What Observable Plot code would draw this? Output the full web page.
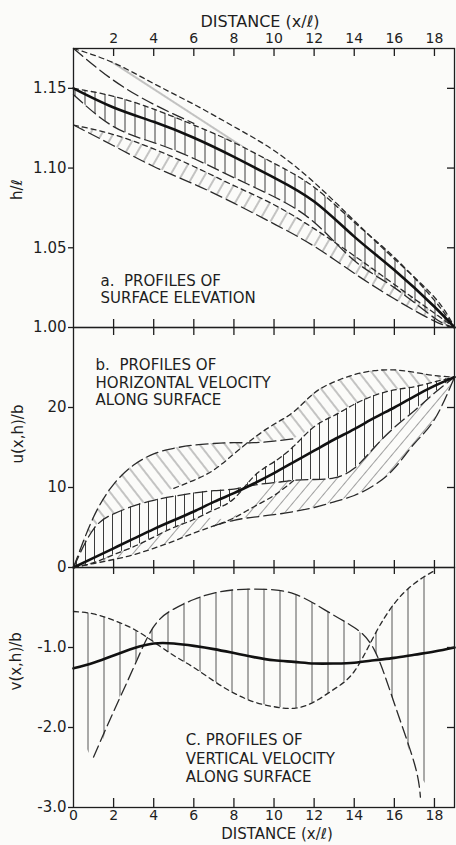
<!DOCTYPE html>
<html><head><meta charset="utf-8">
<script src="https://cdn.jsdelivr.net/npm/d3@7"></script>
<script src="https://cdn.jsdelivr.net/npm/@observablehq/plot@0.6"></script>
<style>
html,body{margin:0;padding:0;background:#fbfbf9;}
#chart{width:456px;height:845px;overflow:hidden;}
#chart svg{display:block;overflow:visible;background:transparent;}
</style></head>
<body><div id="chart"></div>
<script>
// ---------- tick labels ----------
const xTicksTop = [2,4,6,8,10,12,14,16,18];
const xTicksBottom = [0,2,4,6,8,10,12,14,16,18];
const hTicks = [1.00,1.05,1.10,1.15];
const uTicks = [10,20];
const vTicks = [0,-1,-2,-3];

// ---------- panel a : surface elevation h/l ----------
const aX      = [0,2,4,6,8,10,12,14,16,18,19];
const aMean   = [1.150,1.138,1.129,1.119,1.107,1.094,1.079,1.057,1.036,1.013,1.000];
const aUpper  = [1.175,1.166,1.153,1.140,1.126,1.111,1.091,1.067,1.043,1.019,1.000];
const aSteep  = [1.175,1.155,1.140,1.128];            // x = 0,2,4,6
const aCap    = [1.150,1.145,1.137,1.127,1.116,1.103,1.088,1.066,1.044,1.017,1.000];
const aBelow  = [1.146,1.126,1.116,1.106,1.094,1.082,1.066,1.042,1.025,1.006,1.000];
const aLowTop = [1.127,1.121,1.112,1.101,1.089,1.077,1.062,1.045,1.027,1.009,1.000];
const aLowBot = [1.127,1.114,1.101,1.090,1.078,1.065,1.051,1.034,1.018,1.004,1.000];

// ---------- panel b : horizontal velocity u(x,h)/b ----------
const bX    = [0,1,2,3,4,5,6,7,8,9,10,11,12,13,14,15,16,17,18,19];
const bMean = [0,1.2,2.4,3.6,4.8,5.9,7.0,8.2,9.3,10.5,11.8,13.2,14.6,16.0,17.3,18.7,20.0,21.4,22.7,23.8];
const bAX   = [0,1,2,3,4,5,6,7,8,9,10,11];
const bA    = [0,6.3,10.4,12.8,14.2,14.9,15.3,15.5,15.6,15.6,15.8,16.1];
const bBX   = [5,6,7,8,9,10,11,12,13,14,15,16,17,18,19];
const bB    = [9.9,10.9,12.2,14.2,16.2,17.9,19.5,21.8,23.2,24.1,24.6,24.7,24.4,24.0,23.8];
const bC    = [0,4.8,6.7,7.7,8.4,8.9,9.3,9.6,9.8,10.3,10.6,10.9,11.0,11.2,12.4,15.0,17.5,19.6,21.8,23.8];
const bD    = [0,0.6,1.6,2.6,3.8,5.0,6.0,7.2,8.6,11.4,13.2,15.2,17.6,19.0,20.4,21.5,22.2,22.6,23.2,23.8];
const bEX   = [0,1,2,3,4,5,6,7,8,9,10,11];
const bE    = [0,0.5,1.0,1.6,2.4,3.3,4.3,5.2,6.2,7.6,9.0,10.9];
const bFX   = [7,8,9,10,11,12,13,14,15,16,17,18,19];
const bF    = [5.2,5.9,6.3,6.6,7.0,7.5,8.2,9.0,10.3,12.4,15.5,18.5,23.8];
const bULX   = [0,1,2,3,4,5,6,7,8,9];
const bULTop = [0,6.3,10.4,12.8,14.2,14.9,15.3,15.5,15.6,15.6];
const bULBot = [0,4.8,6.7,7.7,8.4,9.9,10.9,12.2,14.2,15.6];
const bURX   = [9,10,11,12,13,14,15,16,17,18,19];
const bURTop = [16.2,17.9,19.5,21.8,23.2,24.1,24.6,24.7,24.4,24.0,23.8];
const bURBot = [15.6,15.8,16.1,17.6,19.0,20.4,21.5,22.2,22.6,23.2,23.8];
const bLowTop = [0,0.6,1.6,2.6,3.8,5.0,6.0,6.1,6.3,8.6,10.6,10.9,11.0,11.2,12.4,15.0,17.5,19.6,21.8,23.8];
const bLowBot = [0,0.5,1.0,1.6,2.4,3.3,4.3,5.2,5.9,6.3,6.6,7.0,7.5,8.2,9.0,10.3,12.4,15.5,18.5,23.8];

// ---------- panel c : vertical velocity v(x,h)/b ----------
const cX      = [0,1,2,3,4,5,6,7,8,9,10,11,12,13,14,15,16,17,18,19];
const cMean   = [-1.26,-1.19,-1.10,-1.01,-0.95,-0.95,-0.98,-1.02,-1.07,-1.12,-1.16,-1.18,-1.20,-1.20,-1.19,-1.16,-1.13,-1.09,-1.05,-1.00];
const cShortX = [0,1,2,3,4,5,6,7,8,9,10,11,12,13,14,15,16,17,18];
const cShort  = [-0.55,-0.58,-0.66,-0.77,-0.93,-1.10,-1.25,-1.42,-1.57,-1.68,-1.74,-1.76,-1.68,-1.52,-1.30,-0.85,-0.45,-0.20,-0.04];
const cLongX  = [1,2,3,4,5,6,7,8,9,10,11,12,13,14,15,16,17,17.3];
const cLong   = [-2.37,-1.80,-1.25,-0.74,-0.52,-0.40,-0.32,-0.28,-0.27,-0.28,-0.33,-0.45,-0.60,-0.75,-1.03,-1.70,-2.45,-2.87];
const cBandX  = [0,1,2,3,4,5,6,7,8,9,10,11,12,13,14,15,16,17,18];
const cBandLo = [-1.60,-2.37,-1.80,-1.25,-0.74,-0.52,-0.40,-0.32,-0.28,-0.27,-0.28,-0.33,-0.45,-0.60,-0.75,-1.03,-1.70,-2.45,-2.85];

// ---------- helpers ----------
const pts  = (xs, ys) => xs.map((x, i) => ({x, y: ys[i]}));
const band = (xs, lo, hi) => xs.map((x, i) => ({x, y1: lo[i], y2: hi[i]}));

const W = 456, ML = 73, MR = 2, FW = W - ML - MR;
const INK = "#1e1e1e";
const FONT = "DejaVu Sans";
const solid  = {stroke: "#111", strokeWidth: 2.6};
const shortD = {stroke: "#2a2a2a", strokeWidth: 1.3, strokeDasharray: "5,4"};
const longD  = {stroke: "#2a2a2a", strokeWidth: 1.3, strokeDasharray: "12,5"};
const frameS = {stroke: INK, strokeWidth: 1.3};
const baseStyle = {fontFamily: FONT, fontSize: "15px", color: INK, background: "transparent", overflow: "visible"};

const ln = (xs, ys, st, curve = "natural") => Plot.line(pts(xs, ys), {x: "x", y: "y", curve, ...st});
const hatchArea = (xs, lo, hi, id, curve = "natural") =>
  Plot.areaY(band(xs, lo, hi), {x: "x", y1: "y1", y2: "y2", curve, fill: `url(#${id})`});

function addHatch(svg, id, spacing, angle, color, sw) {
  const ns = "http://www.w3.org/2000/svg";
  let defs = svg.querySelector("defs");
  if (!defs) { defs = document.createElementNS(ns, "defs"); svg.insertBefore(defs, svg.firstChild); }
  const p = document.createElementNS(ns, "pattern");
  p.setAttribute("id", id);
  p.setAttribute("patternUnits", "userSpaceOnUse");
  p.setAttribute("width", spacing);
  p.setAttribute("height", spacing);
  p.setAttribute("patternTransform", `rotate(${angle})`);
  const l = document.createElementNS(ns, "line");
  l.setAttribute("x1", spacing / 2); l.setAttribute("x2", spacing / 2);
  l.setAttribute("y1", -1); l.setAttribute("y2", spacing + 1);
  l.setAttribute("stroke", color); l.setAttribute("stroke-width", sw);
  p.appendChild(l); defs.appendChild(p);
}

const txt = (s, o) => Plot.text([s], {text: d => d, fontFamily: FONT, fill: INK, ...o});
const panelLabel = {textAnchor: "start", lineAnchor: "top", fontSize: 15, letterSpacing: 1};

// ---------- panel a ----------
const FHa = 279;
const aUpperLo = aX.map((x, i) => x <= 6 ? aSteep[i] : aCap[i]);
const pa = Plot.plot({
  width: W, height: 48 + FHa, marginTop: 48, marginBottom: 0, marginLeft: ML, marginRight: MR,
  x: {domain: [0, 19]}, y: {domain: [1.0, 1.175]},
  style: baseStyle,
  marks: [
    hatchArea(aX, aUpperLo, aUpper, "pa-d"),
    hatchArea(aX, aBelow, aCap, "pa-v"),
    hatchArea(aX, aLowBot, aLowTop, "pa-l"),
    ln(aX, aUpper, shortD),
    ln(aX.slice(0, 4), aSteep, longD),
    ln(aX, aCap, shortD),
    ln(aX, aBelow, longD),
    ln(aX, aLowTop, shortD),
    ln(aX, aLowBot, longD),
    ln(aX, aMean, solid),
    Plot.frame(frameS),
    Plot.tickX(xTicksTop, {x: d => d, insetBottom: FHa - 8, ...frameS}),
    Plot.tickX(xTicksTop, {x: d => d, insetTop: FHa - 8, ...frameS}),
    Plot.tickY(hTicks.slice(1), {y: d => d, insetLeft: FW - 7, ...frameS}),
    Plot.axisX({anchor: "top", ticks: xTicksTop, tickSize: 0, tickPadding: 6, label: null, fontSize: 14}),
    Plot.axisY({anchor: "left", ticks: hTicks, tickSize: 5, tickPadding: 2, tickFormat: d3.format(".2f"), label: null, strokeWidth: 1.3}),
    txt("DISTANCE (x/ℓ)", {frameAnchor: "top", dx: -4, dy: -33, fontSize: 16, letterSpacing: 0.6}),
    txt("h/ℓ", {frameAnchor: "left", dx: -56, dy: 12, rotate: -90, fontSize: 15, letterSpacing: 1}),
    txt("a.  PROFILES OF\nSURFACE ELEVATION", {x: 1.35, y: 1.0338, lineHeight: 1.15, ...panelLabel})
  ]
});
addHatch(pa, "pa-d", 18, -57, "#8a8a8a", 1);
addHatch(pa, "pa-v", 10, 0, "#3c3c3c", 1);
addHatch(pa, "pa-l", 10, 30, "#8c8c8c", 1);

// ---------- panel b ----------
const FHb = 240;
const pb = Plot.plot({
  width: W, height: FHb, marginTop: 0, marginBottom: 0, marginLeft: ML, marginRight: MR,
  x: {domain: [0, 19], axis: null}, y: {domain: [0, 30]},
  style: baseStyle,
  marks: [
    hatchArea(bULX, bULBot, bULTop, "pb-d"),
    hatchArea(bURX, bURBot, bURTop, "pb-d"),
    hatchArea(bX, bC, bD, "pb-v"),
    hatchArea(bX, bLowBot, bLowTop, "pb-l"),
    ln(bAX, bA, longD),
    ln(bBX, bB, shortD),
    ln(bX, bC, longD),
    ln(bX, bD, shortD),
    ln(bEX, bE, shortD),
    ln(bFX, bF, longD),
    ln(bX, bMean, solid),
    Plot.frame(frameS),
    Plot.tickX(xTicksTop, {x: d => d, insetBottom: FHb - 8, ...frameS}),
    Plot.tickX(xTicksTop, {x: d => d, insetTop: FHb - 7, ...frameS}),
    Plot.tickY(uTicks, {y: d => d, insetLeft: FW - 7, ...frameS}),
    Plot.axisY({anchor: "left", ticks: uTicks, tickSize: 5, tickPadding: 2, tickFormat: d3.format("d"), label: null, strokeWidth: 1.3}),
    txt("u(x,h)/b", {frameAnchor: "left", dx: -55, dy: 16, rotate: -90, fontSize: 15, letterSpacing: 1}),
    txt("b.  PROFILES OF\nHORIZONTAL VELOCITY\nALONG SURFACE", {x: 1.1, y: 26.25, lineHeight: 1.17, ...panelLabel})
  ]
});
addHatch(pb, "pb-d", 10, -38, "#8c8c8c", 1);
addHatch(pb, "pb-v", 9, 0, "#3c3c3c", 1);
addHatch(pb, "pb-l", 9, 40, "#a0a0a0", 1);

// ---------- panel c ----------
const FHc = 240;
const pc = Plot.plot({
  width: W, height: FHc + 38, marginTop: 0, marginBottom: 38, marginLeft: ML, marginRight: MR,
  x: {domain: [0, 19]}, y: {domain: [-3, 0]},
  style: baseStyle,
  marks: [
    hatchArea(cBandX, cBandLo, cShort, "pc-v", "monotone-x"),
    ln(cShortX, cShort, shortD),
    ln(cLongX, cLong, longD),
    ln(cX, cMean, solid),
    Plot.frame(frameS),
    Plot.tickX(xTicksTop, {x: d => d, insetBottom: FHc - 7, ...frameS}),
    Plot.tickX(xTicksTop, {x: d => d, insetTop: FHc - 9, ...frameS}),
    Plot.tickY([-1, -2], {y: d => d, insetLeft: FW - 7, ...frameS}),
    Plot.axisX({anchor: "bottom", ticks: xTicksBottom, tickSize: 0, tickPadding: 3, label: null, fontSize: 14}),
    Plot.axisY({anchor: "left", ticks: vTicks, tickSize: 5, tickPadding: 2, tickFormat: d => d === 0 ? "0" : d.toFixed(1), label: null, strokeWidth: 1.3}),
    txt("DISTANCE (x/ℓ)", {frameAnchor: "bottom", dx: 13, dy: 31, fontSize: 15, letterSpacing: 1.5}),
    txt("v(x,h)/b", {frameAnchor: "left", dx: -57, dy: 3, rotate: -90, fontSize: 15, letterSpacing: 1}),
    txt("C. PROFILES OF\nVERTICAL VELOCITY\nALONG SURFACE", {x: 5.6, y: -2.06, lineHeight: 1.22, ...panelLabel})
  ]
});
addHatch(pc, "pc-v", 16, 0, "#555", 1);

const root = document.getElementById("chart");
root.append(pa, pb, pc);
</script>
</body></html>
